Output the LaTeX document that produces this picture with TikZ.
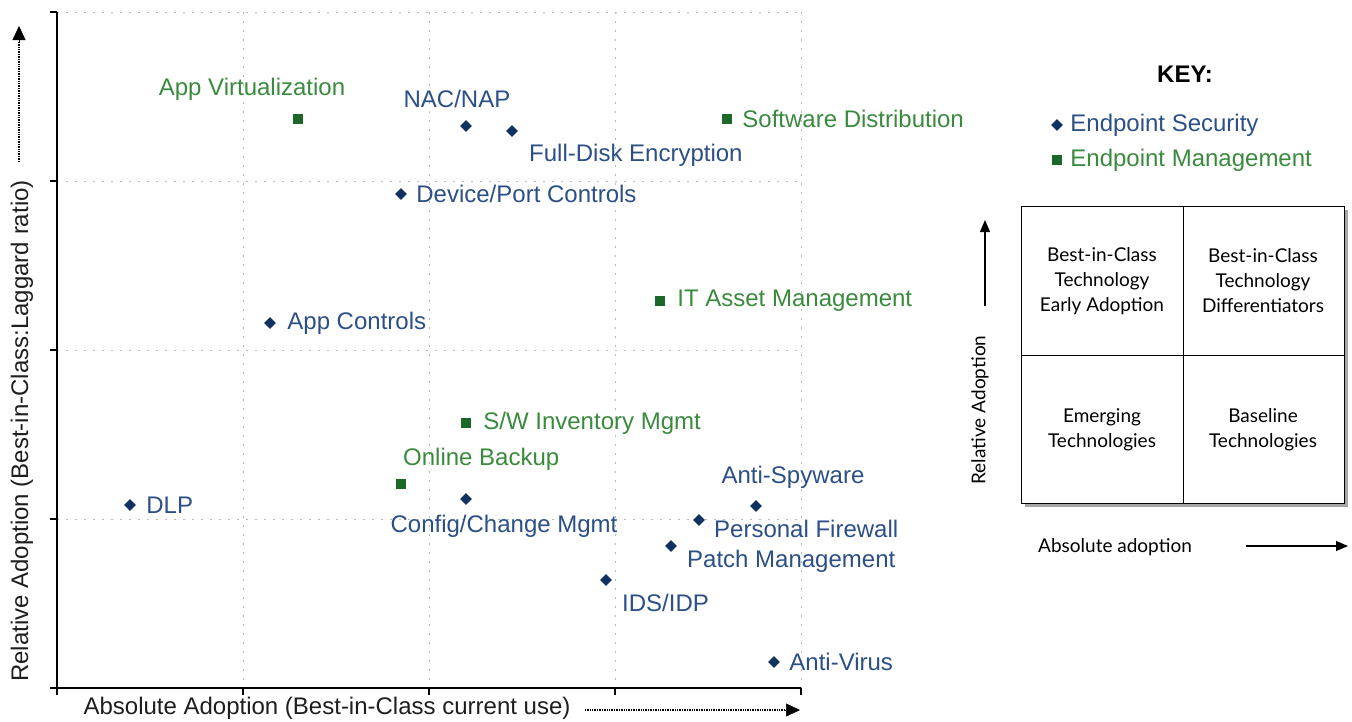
\documentclass[tikz,border=0pt]{standalone}
\usepackage{fontspec}
\setmainfont{Liberation Sans}
\newfontfamily\quadfont{Lato}
\usetikzlibrary{shapes.geometric, positioning, calc, arrows.meta}

\definecolor{secblue}{RGB}{43,79,134}
\definecolor{secmark}{RGB}{16,50,98}
\definecolor{mgtgreen}{RGB}{58,138,62}
\definecolor{mgtmark}{RGB}{28,104,40}
\definecolor{gridgray}{RGB}{185,185,185}
\definecolor{axgray}{RGB}{30,30,30}

\tikzset{
  secpt/.style={diamond, fill=secmark, inner sep=0pt, minimum size=12pt},
  mgtpt/.style={rectangle, fill=mgtmark, inner sep=0pt, minimum size=10pt},
  seclbl/.style={text=secblue, inner sep=0pt, font=\fontsize{24}{28}\selectfont},
  mgtlbl/.style={text=mgtgreen, inner sep=0pt, font=\fontsize{24}{28}\selectfont},
  axlbl/.style={text=axgray, inner sep=0pt, font=\fontsize{24}{28}\selectfont},
  gridln/.style={gridgray, line width=1pt, dash pattern=on 2pt off 7pt},
  dotline/.style={line width=1.8pt, dash pattern=on 1pt off 0.7pt},
  dottip/.style={solid, line width=0.5pt, -{Triangle[length=14pt,width=13pt]}},
  keyarrow/.style={line width=1.2pt, -{Triangle[length=12pt,width=10pt]}},
  quadtxt/.style={inner sep=0pt, align=center, font=\quadfont\fontsize{19}{25}\selectfont},
}

\begin{document}
\begin{tikzpicture}[x=1pt,y=-1pt]
\useasboundingbox (0,0) rectangle (1352,721);

% grid
\foreach \gy in {12,181,350,519}
  \draw[gridln] (57,\gy) -- (801,\gy);
\foreach \gx in {243,429,615,801}
  \draw[gridln] (\gx,12) -- (\gx,688);

% axes
\draw[line width=1.2pt] (57,12) -- (57,688) -- (801,688);
\foreach \gy in {12,181,350,519,688}
  \draw[line width=1.2pt] (50,\gy) -- (57,\gy);
\foreach \gx in {57,243,429,615,801}
  \draw[line width=1.2pt] (\gx,688) -- (\gx,695);

% axis titles
\node[axlbl, rotate=90] (ylab) at (22,431) {Relative Adoption (Best-in-Class:Laggard ratio)};
\coordinate (yarrS) at (19,162);
\coordinate (yarrM) at (19,42);
\coordinate (yarrE) at (19,26);
\draw[dotline] (yarrS) -- (yarrM);
\draw[dottip] (yarrM) -- (yarrE);
\node[axlbl] (xlab) at (327,708) {Absolute Adoption (Best-in-Class current use)};
\coordinate (xarrS) at (585,710);
\coordinate (xarrM) at (784,710);
\coordinate (xarrE) at (800,710);
\draw[dotline] (xarrS) -- (xarrM);
\draw[dottip] (xarrM) -- (xarrE);

% endpoint management
\node[mgtpt] (appvirt) at (298,119) {};
\node[mgtlbl] at (252,89) {App Virtualization};
\node[mgtpt] (swdist) at (727,119) {};
\node[mgtlbl, right=10pt of swdist] {Software Distribution};
\node[mgtpt] (itasset) at (660,301) {};
\node[mgtlbl, right=12pt of itasset] {IT Asset Management};
\node[mgtpt] (swinv) at (466,423) {};
\node[mgtlbl, right=12pt of swinv] {S/W Inventory Mgmt};
\node[mgtpt] (backup) at (401,484) {};
\node[mgtlbl, anchor=west] at ($(backup)+(2,-25)$) {Online Backup};

% endpoint security
\node[secpt] (nac) at (466,126) {};
\node[seclbl] at (457,99) {NAC/NAP};
\node[secpt] (fde) at (512,131) {};
\node[seclbl, anchor=west] at ($(fde)+(17,24)$) {Full-Disk Encryption};
\node[secpt] (devport) at (401,194) {};
\node[seclbl, right=9pt of devport] {Device/Port Controls};
\node[secpt] (appctl) at (270,323) {};
\node[seclbl, right=11pt of appctl] {App Controls};
\node[secpt] (config) at (466,499) {};
\node[seclbl] at (504,526) {Config/Change Mgmt};
\node[secpt] (dlp) at (130,505) {};
\node[seclbl, right=10pt of dlp] {DLP};
\node[secpt] (spyware) at (756,506) {};
\node[seclbl] at (793,477) {Anti-Spyware};
\node[secpt] (firewall) at (699,520) {};
\node[seclbl, anchor=west] at ($(firewall)+(15,9)$) {Personal Firewall};
\node[secpt] (patch) at (671,546) {};
\node[seclbl, anchor=west] at ($(patch)+(16,15)$) {Patch Management};
\node[secpt] (ids) at (606,580) {};
\node[seclbl, anchor=west] at ($(ids)+(16,23)$) {IDS/IDP};
\node[secpt] (virus) at (774,662) {};
\node[seclbl, right=9pt of virus] {Anti-Virus};

% key
\node[inner sep=0pt, font=\fontsize{24}{28}\selectfont\bfseries] (keyttl) at (1185,74) {KEY:};
\node[secpt] (keysec) at (1057,125) {};
\node[seclbl, right=7pt of keysec] {Endpoint Security};
\node[mgtpt] (keymgt) at (1057,160) {};
\node[mgtlbl, right=8pt of keymgt] {Endpoint Management};

% quadrant box
\fill[gray!70] (1025,210) rectangle (1348,507);
\draw[fill=white, line width=1pt] (1021,206) rectangle (1344,503);
\draw[line width=1pt] (1183,206) -- (1183,503);
\draw[line width=1pt] (1021,355) -- (1344,355);
\node[quadtxt] (q1) at (1102,281) {Best-in-Class\\Technology\\Early Adoption};
\node[quadtxt] (q2) at (1263,281) {Best-in-Class\\Technology\\Differentiators};
\node[quadtxt] (q3) at (1102,430) {Emerging\\Technologies};
\node[quadtxt] (q4) at (1263,430) {Baseline\\Technologies};

\node[quadtxt, rotate=90] (rellbl) at (980,410) {Relative Adoption};
\coordinate (relS) at (985,306);
\coordinate (relE) at (985,220);
\draw[keyarrow] (relS) -- (relE);
\node[quadtxt] (abslbl) at (1115,547) {Absolute adoption};
\coordinate (absS) at (1246,546);
\coordinate (absE) at (1348,546);
\draw[keyarrow] (absS) -- (absE);
\end{tikzpicture}
\end{document}
